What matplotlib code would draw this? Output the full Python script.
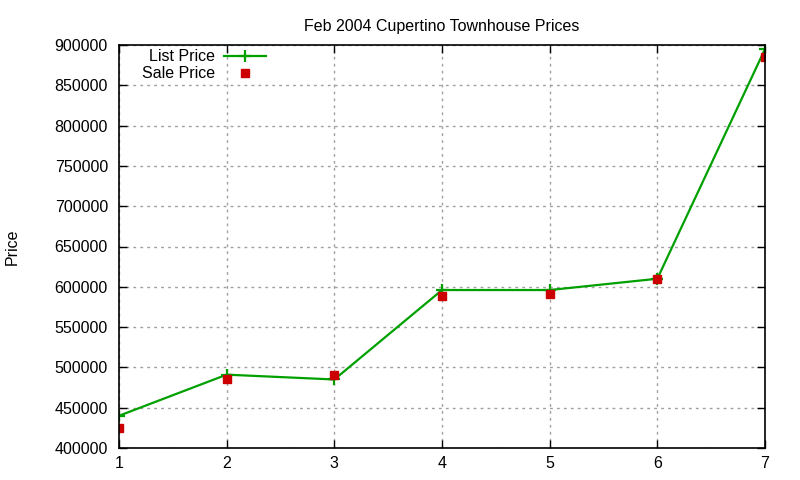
import numpy as np
import matplotlib
matplotlib.use("Agg")
import matplotlib.pyplot as plt

# Feb 2004 Cupertino townhouse data
houses = [1, 2, 3, 4, 5, 6, 7]
listPrice = [440000, 491000, 485000, 596000, 596000, 610000, 895000]
salePrice = [425000, 486000, 491000, 588000, 591000, 610000, 885000]
yTicks = [400000, 450000, 500000, 550000, 600000, 650000, 700000, 750000, 800000, 850000, 900000]

plt.rcParams['font.family'] = ['Liberation Sans', 'DejaVu Sans']
plt.rcParams['font.size'] = 11.5

fig = plt.figure(figsize=(8, 4.8), dpi=100)
ax = fig.add_axes([119 / 800, 1 - 448 / 480, (765 - 119) / 800, (448 - 45) / 480])

ax.plot(houses, listPrice, color='#00a000', linewidth=1.6, marker='+',
        markersize=8, markeredgewidth=1.6, label='List Price')
ax.plot(houses, salePrice, linestyle='none', color='#cc0000', marker='s',
        markersize=6, label='Sale Price')

ax.set_xlim(1, 7)
ax.set_ylim(400000, 900000)
ax.set_xticks(houses)
ax.set_yticks(yTicks)
ax.set_yticklabels([str(t) for t in yTicks])
ax.tick_params(direction='in', top=True, right=True, length=6, width=1)
ax.tick_params(axis='y', pad=8)
ax.tick_params(axis='x', pad=6)
ax.grid(True, color='#a0a0a0', linestyle=(0, (2, 3)), linewidth=1)
for s in ax.spines.values():
    s.set_linewidth(1.2)

ax.set_title('Feb 2004 Cupertino Townhouse Prices', fontsize=11.5, pad=10)
fig.text(12 / 800, 1 - 247 / 480, 'Price', rotation=90, ha='center', va='center')

ax.legend(loc='upper left', bbox_to_anchor=(0.02, 1.013), frameon=False,
          markerfirst=False, handlelength=2.6, handletextpad=0.6,
          labelspacing=0.12, borderaxespad=0.2)

fig.savefig('out.png', dpi=100)
